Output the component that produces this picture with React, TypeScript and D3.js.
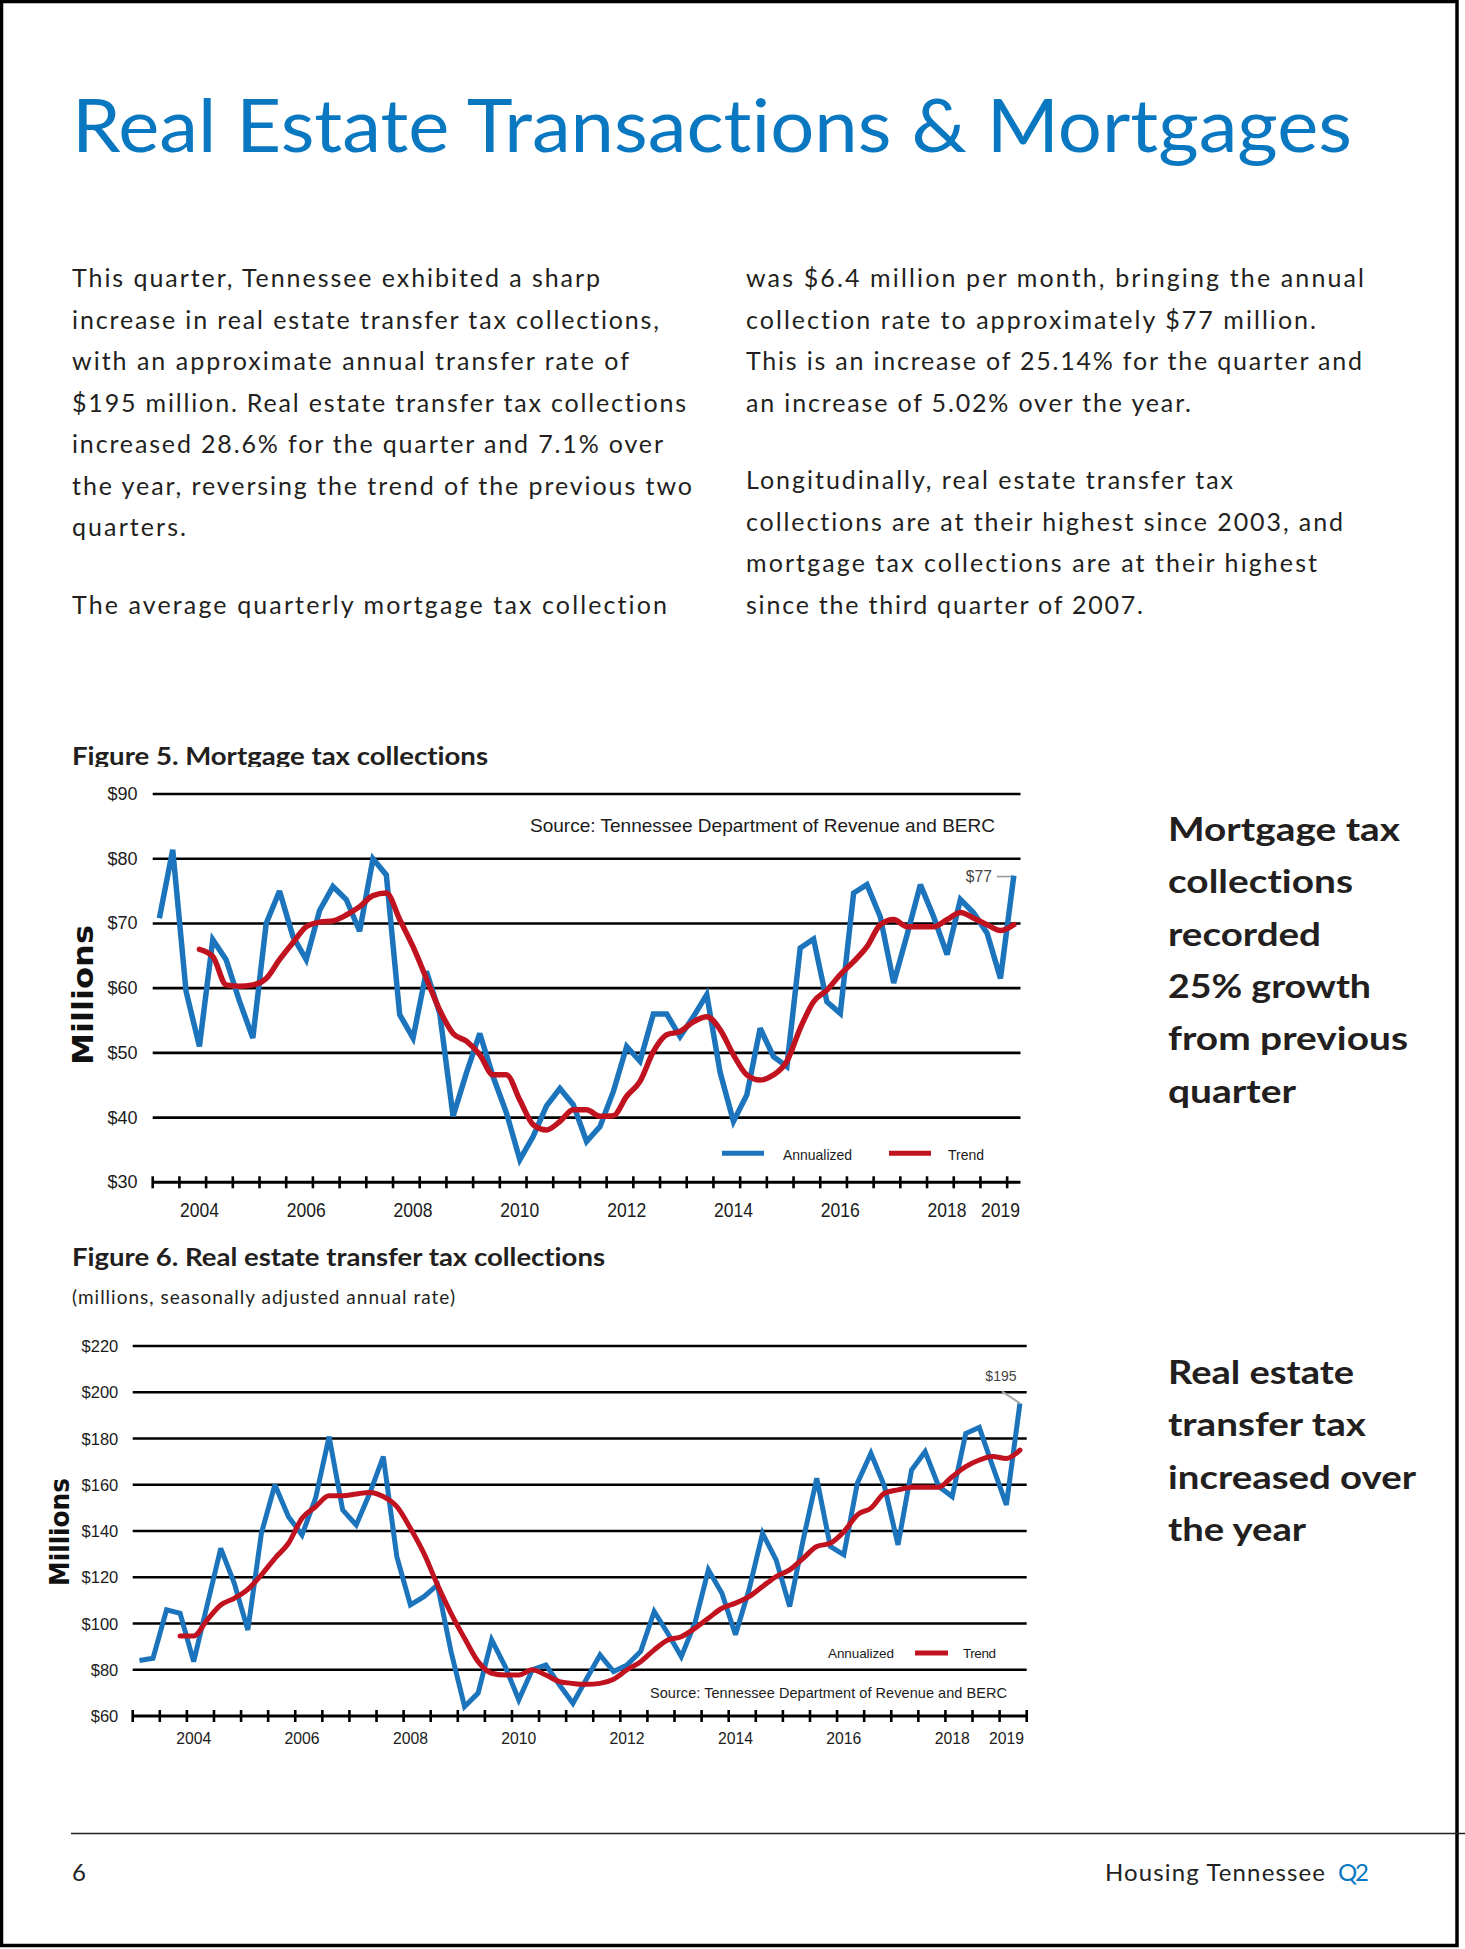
import React from 'react';
import * as d3 from 'd3';

// ---- data ----
const YEARS = [2003, 2004, 2005, 2006, 2007, 2008, 2009, 2010, 2011, 2012, 2013, 2014, 2015, 2016, 2017, 2018, 2019];
const QUARTERS = ['Q1', 'Q2', 'Q3', 'Q4'];
// 2003 Q1 .. 2019 Q2
const ALL_PERIODS = YEARS.flatMap(y => QUARTERS.map(q => `${y} ${q}`)).slice(0, 66);
const MORTGAGE_PERIODS = ALL_PERIODS.slice(1); // mortgage series starts 2003 Q2
const TRANSFER_PERIODS = ALL_PERIODS;
const YEAR_LABELS = ['2004', '2006', '2008', '2010', '2012', '2014', '2016', '2018', '2019'];

const MORTGAGE_TICKS = [30, 40, 50, 60, 70, 80, 90];
const TRANSFER_TICKS = [60, 80, 100, 120, 140, 160, 180, 200, 220];

// Figure 5, millions
const mortgageAnnualized = [
  70.8, 81.4, 59.5, 51, 67.5, 64.4, 58, 52.3, 70, 75, 68, 64.4, 72, 75.7, 73.7, 68.8,
  80, 77.5, 55.9, 52.3, 62.6, 56.1, 40.2, 46.9, 53, 46.3, 40.7, 33.5, 37.1, 41.8, 44.5, 42,
  36.3, 38.6, 44, 51, 48.7, 56, 56, 52.5, 55.6, 59, 47, 39.4, 43.5, 53.8, 49.4, 47.9,
  66.2, 67.6, 57.9, 56.1, 74.7, 76, 71, 60.8, 68.2, 76, 71, 65.2, 73.7, 71.6, 68.5, 61.5, 77.4
];
const mortgageTrend = [
  null, null, null, 66, 64.9, 60.5, 60.3, 60.5, 61.5, 64.4, 67, 69.5, 70.2, 70.4, 71.3, 72.6,
  74.3, 74.7, 70.6, 66.4, 61.5, 56.6, 53, 51.8, 49.7, 46.6, 46.6, 42.7, 38.9, 38.1, 39.4, 41.2,
  41.2, 40.2, 40.3, 43.3, 45.6, 50.2, 52.8, 53.3, 54.8, 55.6, 53.6, 49.7, 46.6, 45.8, 46.6, 48.7,
  53.8, 57.9, 59.7, 62.1, 64.1, 66.4, 69.8, 70.6, 69.5, 69.5, 69.5, 70.6, 71.7, 70.8, 69.8, 68.9, 69.8
];

// Figure 6, millions, seasonally adjusted annual rate
const transferAnnualized = [
  84, 85, 105.9, 104.4, 83.5, 108, 132.5, 117.4, 97.2, 139, 160, 146.2, 138.3, 154.2, 180.8, 149.1,
  142.6, 156.3, 172.2, 128.9, 108, 111.6, 116.7, 87.9, 64.1, 69.9, 92.9, 81.4, 67, 80, 82.1, 73.5,
  65.5, 76, 86.4, 79.2, 82.1, 87.9, 105.2, 95.8, 85.7, 100.1, 123.2, 113.1, 95.1, 114.6, 139, 127.5,
  107.3, 136.2, 162.8, 133.3, 129.7, 160.7, 173.6, 159.3, 134, 166.4, 174.3, 159.3, 154.9, 182.2, 184.8, 167.8,
  151.3, 195.2
];
const transferTrend = [
  null, null, null, 94.6, 94.6, 101.6, 108, 110.9, 114.8, 121, 128.2, 134.7, 145.5, 150.5, 155.2, 155.2,
  156, 156.7, 154.9, 150.5, 141.2, 130.3, 116.7, 104.4, 93.6, 83.5, 78.5, 77.7, 77.7, 80, 77.7, 74.9,
  74.1, 73.7, 74.1, 75.9, 80, 83.5, 88.6, 92.9, 94.3, 97.9, 102.3, 106.6, 108.8, 111.6, 116, 120.3,
  123.2, 128.2, 133.3, 134.7, 139.7, 147, 149.9, 156.3, 157.8, 158.9, 158.9, 158.9, 163.5, 167.8, 170.7, 172.2,
  171.4, 175
];

// ---- page text ----
const LEFT_PARAS = [
  [
    'This quarter, Tennessee exhibited a sharp',
    'increase in real estate transfer tax collections,',
    'with an approximate annual transfer rate of',
    '$195 million. Real estate transfer tax collections',
    'increased 28.6% for the quarter and 7.1% over',
    'the year, reversing the trend of the previous two',
    'quarters.'
  ],
  ['The average quarterly mortgage tax collection']
];
const RIGHT_PARAS = [
  [
    'was $6.4 million per month, bringing the annual',
    'collection rate to approximately $77 million.',
    'This is an increase of 25.14% for the quarter and',
    'an increase of 5.02% over the year.'
  ],
  [
    'Longitudinally, real estate transfer tax',
    'collections are at their highest since 2003, and',
    'mortgage tax collections are at their highest',
    'since the third quarter of 2007.'
  ]
];
const LEFT_WIDTHS = [528, 587, 557, 614, 591, 620, 114, 595];
const RIGHT_WIDTHS = [618, 570, 616, 445, 487, 597, 571, 397];

const CALLOUT_1 = ['Mortgage tax', 'collections', 'recorded', '25% growth', 'from previous', 'quarter'];
const CALLOUT_1_WIDTHS = [232, 185, 153, 203, 240, 128];
const CALLOUT_2 = ['Real estate', 'transfer tax', 'increased over', 'the year'];
const CALLOUT_2_WIDTHS = [186, 198, 248, 138];

const BLUE = '#1c75bc';
const RED = '#c1121f';
const INK = '#1b1b1b';
const TITLE_BLUE = '#0a77c1';
const BODY_FONT = "Lato, 'Open Sans', sans-serif";
const PLAIN = "'Liberation Sans', Arial, sans-serif";

interface ChartProps {
  periods: string[];
  annualized: number[];
  trend: (number | null)[];
  ticks: number[];
  x0: number;
  x1: number;
  yTop: number;
  yBottom: number;
  yLabelRight: number;
  xLabelY: number;
  yFontSize: number;
  xFontSize: number;
  xLabelWidth: number;
  lineWidth: number;
  lastLabel: string;
  labelMode: 'side' | 'above';
}

const CollectionsChart: React.FC<ChartProps> = ({
  periods, annualized, trend, ticks, x0, x1, yTop, yBottom,
  yLabelRight, xLabelY, yFontSize, xFontSize, xLabelWidth, lineWidth, lastLabel, labelMode
}) => {
  const x = d3.scaleBand<string>().domain(periods).range([x0, x1]).padding(0);
  const bw = x.bandwidth();
  const cx = (p: string) => (x(p) ?? 0) + bw / 2;
  const y = d3.scaleLinear()
    .domain([d3.min(ticks)!, d3.max(ticks)!])
    .range([yBottom, yTop]);

  const annualLine = d3.line<number>()
    .x((_, i) => cx(periods[i]))
    .y(d => y(d));
  const trendLine = d3.line<number | null>()
    .defined(d => d != null)
    .x((_, i) => cx(periods[i]))
    .y(d => y(d as number))
    .curve(d3.curveMonotoneX);

  const axisY = y(d3.min(ticks)!);
  const tickXs = periods.filter((_, i) => i % 2 === 0).map(p => x(p) ?? 0);
  if (periods.length % 2 === 0) tickXs.push(x1);

  const lastIdx = annualized.length - 1;
  const lx = cx(periods[lastIdx]);
  const ly = y(annualized[lastIdx]);

  return (
    <g>
      {ticks.filter(t => t !== d3.min(ticks)).map(t => (
        <line key={t} x1={x0} x2={x1} y1={y(t)} y2={y(t)} stroke="#000" strokeWidth={2.6} />
      ))}
      <line x1={x0} x2={x1} y1={axisY} y2={axisY} stroke="#000" strokeWidth={3} />
      {tickXs.map((tx, i) => (
        <line key={i} x1={tx} x2={tx} y1={axisY - 6} y2={axisY + 6} stroke="#000" strokeWidth={2.6} />
      ))}
      {ticks.map(t => (
        <text key={t} x={yLabelRight} y={y(t)} textAnchor="end" dominantBaseline="central"
          fontFamily={PLAIN} fontSize={yFontSize} fill={INK}>{`$${t}`}</text>
      ))}
      {YEAR_LABELS.map(yr => (
        <text key={yr} x={cx(`${yr} Q1`) - xLabelWidth / 2} y={xLabelY} dominantBaseline="central"
          fontFamily={PLAIN} fontSize={xFontSize} fill={INK}
          textLength={xLabelWidth} lengthAdjust="spacingAndGlyphs">{yr}</text>
      ))}
      <path d={annualLine(annualized) ?? ''} fill="none" stroke={BLUE} strokeWidth={lineWidth}
        strokeLinejoin="miter" strokeMiterlimit={3} />
      <path d={trendLine(trend) ?? ''} fill="none" stroke={RED} strokeWidth={lineWidth}
        strokeLinejoin="round" strokeLinecap="round" />
      {labelMode === 'side' ? (
        <g>
          <line x1={lx - 17} x2={lx - 3} y1={ly + 1} y2={ly + 1} stroke="#9a9a9a" strokeWidth={1.6} />
          <text x={lx - 48} y={ly + 1} dominantBaseline="central"
            fontFamily={PLAIN} fontSize={16} fill="#444" textLength={26}
            lengthAdjust="spacingAndGlyphs">{lastLabel}</text>
        </g>
      ) : (
        <g>
          <line x1={lx - 18} x2={lx} y1={ly - 12} y2={ly} stroke="#a8a8a8" strokeWidth={2} />
          <text x={lx - 19} y={ly - 27} textAnchor="middle" dominantBaseline="central"
            fontFamily={PLAIN} fontSize={14} fill="#444">{lastLabel}</text>
        </g>
      )}
    </g>
  );
};

const Paragraphs: React.FC<{ paras: string[][]; widths: number[]; x: number; y0: number }> = ({ paras, widths, x, y0 }) => {
  const lineGap = 41.5;
  const paraGap = 36;
  const out: React.ReactNode[] = [];
  let yy = y0;
  let k = 0;
  paras.forEach((lines, pi) => {
    if (pi > 0) yy += paraGap;
    lines.forEach(line => {
      out.push(
        <text key={k} x={x} y={yy} fontFamily={BODY_FONT} fontSize={25} fill="#231f20"
          textLength={widths[k]} lengthAdjust="spacing">{line}</text>
      );
      yy += lineGap;
      k += 1;
    });
  });
  return <g>{out}</g>;
};

const Callout: React.FC<{ lines: string[]; widths: number[]; y0: number }> = ({ lines, widths, y0 }) => (
  <g>
    {lines.map((l, i) => (
      <text key={i} x={1168} y={y0 + i * 52.3} fontFamily={BODY_FONT} fontWeight="bold" fontSize={33}
        fill="#231f20" textLength={widths[i]} lengthAdjust="spacingAndGlyphs">{l}</text>
    ))}
  </g>
);

export default function App() {
  const W = 1465;
  const H = 1949;
  return (
    <svg width={W} height={H} viewBox={`0 0 ${W} ${H}`}
      style={{ position: 'absolute', left: 0, top: 0, background: '#fff' }}>
      <style>{`text { font-variant-ligatures: none; font-feature-settings: "liga" 0, "clig" 0, "dlig" 0; }`}</style>
      <defs>
        <clipPath id="fig5clip">
          <rect x={0} y={700} width={W} height={67} />
        </clipPath>
      </defs>
      <rect x={0} y={0} width={W} height={H} fill="#fff" />
      <rect x={1.5} y={1.5} width={1455.5} height={1944} fill="none" stroke="#000" strokeWidth={3.5} />

      {/* headline */}
      <text x={72} y={152} fontFamily={BODY_FONT} fontSize={74} fill={TITLE_BLUE}
        textLength={1280} lengthAdjust="spacingAndGlyphs">Real Estate Transactions &amp; Mortgages</text>

      <Paragraphs paras={LEFT_PARAS} widths={LEFT_WIDTHS} x={72} y0={287} />
      <Paragraphs paras={RIGHT_PARAS} widths={RIGHT_WIDTHS} x={746} y0={287} />

      {/* Figure 5 */}
      <g clipPath="url(#fig5clip)">
        <text x={72} y={765} fontFamily={BODY_FONT} fontWeight="bold" fontSize={24} fill="#231f20"
          textLength={416} lengthAdjust="spacingAndGlyphs">Figure 5. Mortgage tax collections</text>
      </g>
      <text transform="translate(83.5,995) rotate(-90)" textAnchor="middle" dominantBaseline="central"
        fontFamily="'DejaVu Sans', sans-serif" fontWeight="bold" fontSize={28} fill="#111"
        textLength={140} lengthAdjust="spacingAndGlyphs">Millions</text>
      <CollectionsChart
        periods={MORTGAGE_PERIODS} annualized={mortgageAnnualized} trend={mortgageTrend}
        ticks={MORTGAGE_TICKS} x0={152.7} x1={1020.5} yTop={794} yBottom={1182.3}
        yLabelRight={137.5} xLabelY={1209.5} yFontSize={18} xFontSize={20} xLabelWidth={39}
        lineWidth={5.5} lastLabel="$77" labelMode="side" />
      <text x={530} y={825} dominantBaseline="central" fontFamily={PLAIN} fontSize={19} fill={INK}
        textLength={465} lengthAdjust="spacingAndGlyphs">Source: Tennessee Department of Revenue and BERC</text>
      <line x1={722} x2={764} y1={1153.3} y2={1153.3} stroke={BLUE} strokeWidth={5} />
      <text x={783} y={1154} dominantBaseline="central" fontFamily={PLAIN} fontSize={15} fill={INK}
        textLength={69} lengthAdjust="spacingAndGlyphs">Annualized</text>
      <line x1={889} x2={931} y1={1153.3} y2={1153.3} stroke={RED} strokeWidth={5} />
      <text x={948} y={1154} dominantBaseline="central" fontFamily={PLAIN} fontSize={15} fill={INK}
        textLength={36} lengthAdjust="spacingAndGlyphs">Trend</text>

      {/* Figure 6 */}
      <text x={72} y={1266} fontFamily={BODY_FONT} fontWeight="bold" fontSize={25} fill="#231f20"
        textLength={533} lengthAdjust="spacingAndGlyphs">Figure 6. Real estate transfer tax collections</text>
      <text x={72} y={1304} fontFamily={BODY_FONT} fontSize={19} fill="#231f20"
        textLength={383} lengthAdjust="spacing">(millions, seasonally adjusted annual rate)</text>
      <text transform="translate(60,1532) rotate(-90)" textAnchor="middle" dominantBaseline="central"
        fontFamily="'DejaVu Sans', sans-serif" fontWeight="bold" fontSize={26} fill="#111"
        textLength={108} lengthAdjust="spacingAndGlyphs">Millions</text>
      <CollectionsChart
        periods={TRANSFER_PERIODS} annualized={transferAnnualized} trend={transferTrend}
        ticks={TRANSFER_TICKS} x0={132.7} x1={1026.7} yTop={1346} yBottom={1716}
        yLabelRight={118.3} xLabelY={1738.5} yFontSize={16.5} xFontSize={16} xLabelWidth={35}
        lineWidth={5} lastLabel="$195" labelMode="above" />
      <text x={828} y={1653} dominantBaseline="central" fontFamily={PLAIN} fontSize={13.5} fill={INK}
        textLength={66} lengthAdjust="spacing">Annualized</text>
      <line x1={915} x2={948} y1={1653} y2={1653} stroke={RED} strokeWidth={5} />
      <text x={963} y={1653} dominantBaseline="central" fontFamily={PLAIN} fontSize={13.5} fill={INK}
        textLength={33} lengthAdjust="spacing">Trend</text>
      <text x={650} y={1693} dominantBaseline="central" fontFamily={PLAIN} fontSize={14.5} fill={INK}
        textLength={357} lengthAdjust="spacing">Source: Tennessee Department of Revenue and BERC</text>

      {/* callouts */}
      <Callout lines={CALLOUT_1} widths={CALLOUT_1_WIDTHS} y0={841} />
      <Callout lines={CALLOUT_2} widths={CALLOUT_2_WIDTHS} y0={1384} />

      {/* footer */}
      <line x1={71} x2={W} y1={1833.5} y2={1833.5} stroke="#222" strokeWidth={1.3} />
      <text x={72} y={1881} fontFamily={BODY_FONT} fontSize={24} fill="#222">6</text>
      <text x={1105} y={1881} fontFamily={BODY_FONT} fontSize={24} fill="#222"
        textLength={220} lengthAdjust="spacing">Housing Tennessee</text>
      <text x={1338} y={1881} fontFamily={BODY_FONT} fontSize={24} fill={TITLE_BLUE}
        textLength={31} lengthAdjust="spacing">Q2</text>
    </svg>
  );
}
